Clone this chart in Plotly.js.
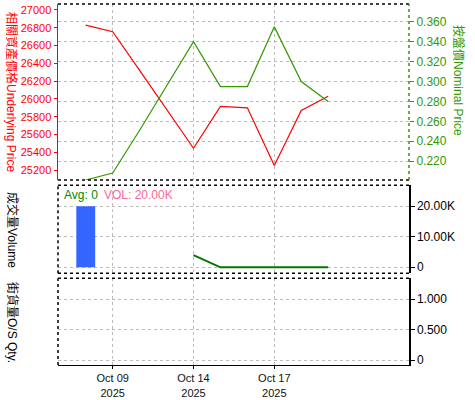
<!DOCTYPE html>
<html><head><meta charset="utf-8">
<script src="https://cdn.plot.ly/plotly-3.0.1.min.js"></script>
<style>html,body{margin:0;padding:0;background:#fff}#chart{width:475px;height:400px}</style>
</head><body><div id="chart"></div>
<script>
const dates = ['2025-10-08','2025-10-09','2025-10-10','2025-10-13','2025-10-14','2025-10-15','2025-10-16','2025-10-17','2025-10-20','2025-10-21'];
const underlying = [26830, 26755, 26320, 25885, 25445, 25915, 25900, 25250, 25870, 26030];
const nominal = [0.201, 0.208, 0.251, 0.295, 0.340, 0.295, 0.295, 0.355, 0.300, 0.280];
const volume = [20000, 0, 0, 0, 0, 0, 0, 0, 0, 0];
const volLine = [null, null, null, null, 4000, 0, 0, 0, 0, 0];
const osQty = [null, null, null, null, null, null, null, null, null, null];
const tickDates = ['2025-10-09','2025-10-14','2025-10-17'];
const tickLabels = ['Oct 09<br>2025','Oct 14<br>2025','Oct 17<br>2025'];

const xi = dates.map((d,i)=>i);
const tickIdx = tickDates.map(d=>dates.indexOf(d));
const FONT = 'Liberation Sans, Arial, Noto Sans CJK TC, sans-serif';

const traces = [
  {x: xi, y: underlying, type:'scatter', mode:'lines', line:{color:'#ff0000', width:1.2}, xaxis:'x', yaxis:'y', hoverinfo:'skip'},
  {x: xi, y: nominal, type:'scatter', mode:'lines', line:{color:'#339900', width:1.2}, xaxis:'x', yaxis:'y2', hoverinfo:'skip'},
  {x: xi, y: volume, type:'bar', marker:{color:'#3366ff'}, width:0.7, xaxis:'x', yaxis:'y3', hoverinfo:'skip'},
  {x: xi, y: volLine, type:'scatter', mode:'lines', line:{color:'#007700', width:2}, xaxis:'x', yaxis:'y3', connectgaps:false, hoverinfo:'skip'},
  {x: xi, y: osQty, type:'scatter', mode:'lines', line:{color:'#000', width:1}, xaxis:'x', yaxis:'y4', hoverinfo:'skip'}
];

const grid = {showgrid:true, gridcolor:'#bbbbbb', griddash:'dot', gridwidth:1};
const dotted = (yref, x0, x1, y0, y1, color) => ({type:'line', xref:'paper', yref:yref, x0:x0, x1:x1, y0:y0, y1:y1, line:{color:color||'#000', width:1.5, dash:'dot'}});

const layout = {
  width:475, height:400,
  margin:{l:58, r:66, t:4, b:35},
  paper_bgcolor:'#fff', plot_bgcolor:'#fff',
  showlegend:false,
  font:{family:FONT, size:12, color:'#000'},
  xaxis:{anchor:'y4', range:[-1.03, 12], tickvals:tickIdx, ticktext:tickLabels, ...grid,
         showline:true, linecolor:'#000', linewidth:1, ticks:'outside', ticklen:3, tickcolor:'#000',
         tickfont:{size:11, color:'#111'}, ticklabelstandoff:0, zeroline:false},
  yaxis:{domain:[0.5125,1], range:[25088, 27067], tickvals:[25200,25400,25600,25800,26000,26200,26400,26600,26800,27000],
         tickformat:'d', showgrid:false, zeroline:false, showline:true, linecolor:'#ff0000', linewidth:1.5,
         ticks:'outside', ticklen:3, tickcolor:'#ff0000', tickfont:{size:11, color:'#ff0000'}, anchor:'x'},
  yaxis2:{overlaying:'y', side:'right', range:[0.201, 0.378], tickvals:[0.22,0.24,0.26,0.28,0.30,0.32,0.34,0.36],
          tickformat:'.3f', ...grid, zeroline:false, showline:false,
          ticks:'outside', ticklen:4, tickcolor:'#339900', tickfont:{size:12, color:'#339900'}, anchor:'x'},
  yaxis3:{domain:[0.254,0.498], side:'right', range:[-1970, 26900], tickvals:[0,10000,20000], ticktext:['0','10.00K','20.00K'],
          ...grid, zeroline:false, showline:true, linecolor:'#000', linewidth:1.5, ticks:'outside', ticklen:4, tickcolor:'#000',
          tickfont:{size:12, color:'#000'}, anchor:'x'},
  yaxis4:{domain:[0,0.240], side:'right', range:[-0.082, 1.344], tickvals:[0,0.5,1], ticktext:['0','0.500','1.000'],
          ...grid, zeroline:false, showline:true, linecolor:'#000', linewidth:1.5, ticks:'outside', ticklen:4, tickcolor:'#000',
          tickfont:{size:12, color:'#000'}, anchor:'x'},
  shapes:[
    dotted('y domain',0,1,1,1), dotted('y domain',0,1,0,0),
    dotted('y domain',1,1,0,1,'#339900'),
    dotted('y3 domain',0,1,1,1), dotted('y3 domain',0,1,0,0), dotted('y3 domain',0,0,0,1),
    dotted('y4 domain',0,1,1,1), dotted('y4 domain',0,0,0,1)
  ],
  annotations:[
    {text:'相關資產價格Underlying Price', xref:'paper', yref:'paper', x:-0.131, y:0.756, textangle:90, showarrow:false,
     font:{size:12, color:'#ff0000'}, xanchor:'center', yanchor:'middle'},
    {text:'按盤價Nominal Price', xref:'paper', yref:'paper', x:1.14, y:0.789, textangle:90, showarrow:false,
     font:{size:12, color:'#339900'}, xanchor:'center', yanchor:'middle'},
    {text:'成交量Volume', xref:'paper', yref:'paper', x:-0.131, y:0.374, textangle:90, showarrow:false,
     font:{size:12, color:'#000'}, xanchor:'center', yanchor:'middle'},
    {text:'街貨量O/S Qty.', xref:'paper', yref:'paper', x:-0.131, y:0.119, textangle:90, showarrow:false,
     font:{size:12, color:'#000'}, xanchor:'center', yanchor:'middle'},
    {text:'Avg: 0', xref:'paper', yref:'paper', x:(61.5-58)/351, y:(365-195)/361, showarrow:false,
     font:{size:12, color:'#008800'}, xanchor:'left', yanchor:'middle'},
    {text:'VOL: 20.00K', xref:'paper', yref:'paper', x:(102-58)/351, y:(365-195)/361, showarrow:false,
     font:{size:12, color:'#ff6699'}, xanchor:'left', yanchor:'middle'}
  ]
};
Plotly.newPlot('chart', traces, layout, {staticPlot:true, displayModeBar:false});
</script></body></html>
